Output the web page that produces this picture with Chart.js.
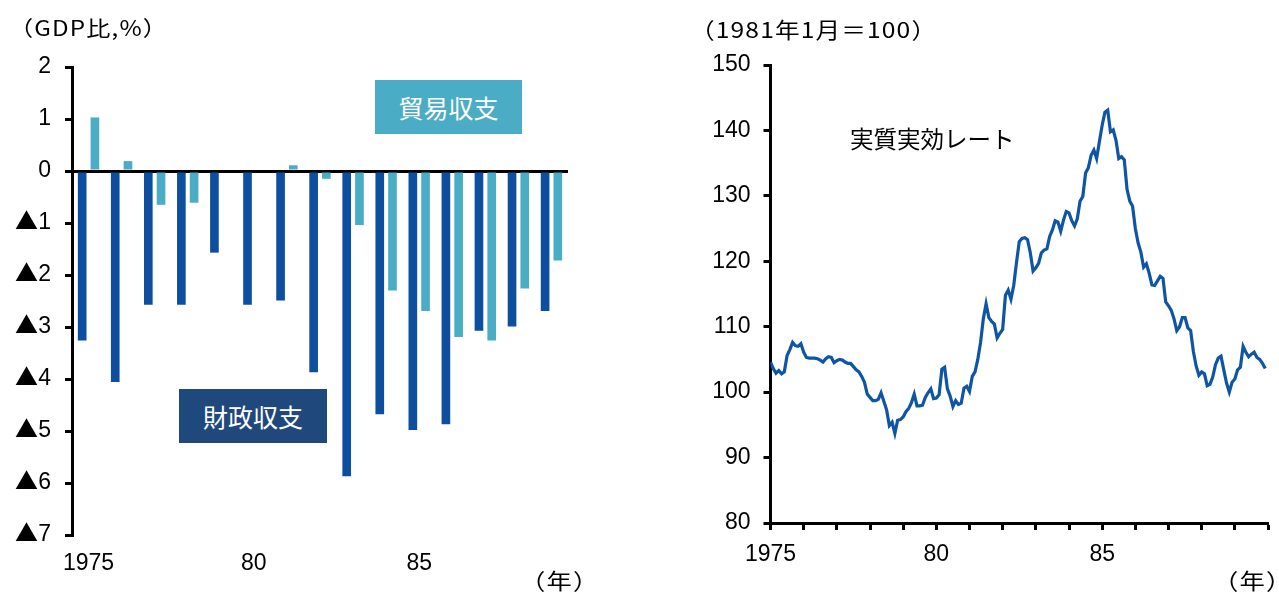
<!DOCTYPE html>
<html><head><meta charset="utf-8">
<script src="https://cdn.jsdelivr.net/npm/chart.js@4.4.0/dist/chart.umd.min.js"></script>
<style>
@font-face{font-family:"TriSym";src:local("Noto Sans CJK JP"),local("Noto Sans CJK JP Regular"),local("NotoSansCJKjp-Regular");unicode-range:U+25B2;}
html,body{margin:0;padding:0;background:#fff;}
body{width:1279px;height:592px;position:relative;overflow:hidden;font-family:"Liberation Sans","Noto Sans CJK JP",sans-serif;color:#000;}
canvas{position:absolute;top:0;}
.t{position:absolute;white-space:nowrap;line-height:1;}
.j{font-family:"Noto Sans CJK JP",sans-serif;}
.w{transform-origin:0 50%;}
.box{position:absolute;color:#fff;display:flex;align-items:center;justify-content:center;font-family:"Noto Sans CJK JP",sans-serif;font-size:25px;}
</style></head>
<body>
<canvas id="left" width="640" height="592" style="left:0"></canvas>
<canvas id="right" width="639" height="592" style="left:640px"></canvas>
<div class="t j w" style="left:9px;top:17px;font-size:21px;letter-spacing:1px;transform:scaleX(1.15);">（GDP比,%）</div>
<div class="t j w" style="left:690px;top:17px;font-size:22px;letter-spacing:1px;transform:scaleX(1.12);">（1981年1月＝100）</div>
<div class="t j w" style="left:520px;top:568px;font-size:22px;letter-spacing:1px;transform:scaleX(1.15);">（年）</div>
<div class="t j w" style="left:1213px;top:568px;font-size:22px;letter-spacing:1px;transform:scaleX(1.15);">（年）</div>
<div class="t j" style="left:850px;top:127px;font-size:23.5px;">実質実効レート</div>
<div class="box" style="left:375px;top:80px;width:147px;height:54px;background:#4BACC6;">貿易収支</div>
<div class="box" style="left:179px;top:389px;width:148px;height:54px;background:#1F497D;">財政収支</div>
<script>
// ---- Left chart data ----
const years = ['1975','1976','1977','1978','1979','1980','1981','1982','1983','1984','1985','1986','1987','1988','1989'];
const fiscalBalance = [-3.26,-4.06,-2.57,-2.57,-1.57,-2.57,-2.49,-3.87,-5.87,-4.68,-4.98,-4.87,-3.07,-2.99,-2.69];
const tradeBalance = [1.03,0.19,-0.65,-0.61,null,null,0.11,-0.15,-1.04,-2.30,-2.69,-3.19,-3.26,-2.26,-1.72];
const leftXTickLabels = ['1975','','','','','80','','','','','85','','','',''];
const leftYTickValues = [-7,-6,-5,-4,-3,-2,-1,0,1,2];
const leftYTickLabels = ['▲7','▲6','▲5','▲4','▲3','▲2','▲1','0','1','2'];

// ---- Right chart data (monthly, Jan 1975 - Dec 1989) ----
const reerStartYear = 1975;
const reer1975 = [104.6,103.6,102.9,103.3,102.8,103.1,105.6,106.5,107.6,107.1,107.0,107.4];
const reer1976 = [106.1,105.3,105.2,105.2,105.2,105.1,104.9,104.6,105.1,105.4,105.3,104.5];
const reer1977 = [104.8,105.0,104.9,104.6,104.4,104.4,103.9,103.4,103.1,102.4,101.5,99.7];
const reer1978 = [99.2,98.7,98.7,98.9,99.9,98.6,97.3,94.9,95.4,93.7,95.7,95.8];
const reer1979 = [96.2,97.0,97.5,98.4,99.7,97.9,97.9,98.0,99.2,99.9,100.5,99.0];
const reer1980 = [99.1,99.6,103.5,103.8,100.5,99.4,97.8,98.7,98.1,98.3,100.6,100.9];
const reer1981 = [100.1,102.4,103.1,105.0,107.6,111.2,113.5,111.4,110.8,110.4,108.3,109.0];
const reer1982 = [109.6,114.8,115.6,114.2,116.3,119.8,123.0,123.5,123.6,123.3,121.3,118.5];
const reer1983 = [119.0,119.7,121.3,121.7,121.9,123.8,124.8,126.2,126.0,124.6,126.3,127.6];
const reer1984 = [127.4,126.2,125.4,126.5,129.2,129.9,133.5,134.3,136.2,137.0,135.7,138.3];
const reer1985 = [140.8,142.8,143.1,139.8,140.1,138.5,135.7,136.0,135.5,131.0,129.2,128.4];
const reer1986 = [125.0,122.8,121.4,119.1,119.6,118.2,116.4,116.3,117.0,117.7,117.4,113.8];
const reer1987 = [113.2,112.5,111.2,109.4,110.0,111.4,111.4,109.8,109.4,106.2,104.0,102.6];
const reer1988 = [103.1,102.8,101.0,101.2,102.3,104.2,105.2,105.5,103.4,101.4,100.0,101.5];
const reer1989 = [102.0,103.4,103.8,107.0,106.1,105.4,105.8,106.1,105.3,105.0,104.4,103.6];
const reer = [].concat(reer1975,reer1976,reer1977,reer1978,reer1979,reer1980,reer1981,reer1982,reer1983,reer1984,reer1985,reer1986,reer1987,reer1988,reer1989);
const rightXTickLabels = ['1975','','','','','80','','','','','85','','','','',''];

const FONT = {family:'TriSym, "Liberation Sans", Arial, sans-serif', size:23};
Chart.defaults.color = '#000';

function draw(){
new Chart(document.getElementById('left'), {
  type:'bar',
  data:{labels:years, datasets:[
    {label:'財政収支', data:fiscalBalance, backgroundColor:'#0D4F9E', categoryPercentage:0.77, barPercentage:0.68},
    {label:'貿易収支', data:tradeBalance, backgroundColor:'#4BACC6', categoryPercentage:0.77, barPercentage:0.68}
  ]},
  options:{
    responsive:false, animation:false,
    layout:{padding:{top:67,right:72,bottom:0,left:0}},
    plugins:{legend:{display:false}, tooltip:{enabled:false}},
    scales:{
      x:{
        grid:{display:false, drawTicks:false}, border:{display:false},
        ticks:{autoSkip:false, maxRotation:0, padding:15, font:FONT, color:'#000',
          callback:(v,i)=>leftXTickLabels[i]},
        afterFit:(s)=>{s.height=57;}
      },
      y:{
        min:-7, max:2, z:1,
        border:{display:true, color:'#000', width:3},
        grid:{color:(c)=>c.tick && c.tick.value===0?'#000':'rgba(0,0,0,0)', lineWidth:3,
          drawTicks:true, tickLength:7, tickColor:'#000', tickWidth:3},
        ticks:{stepSize:1, padding:14, font:FONT, color:'#000',
          callback:(v)=>{const k=leftYTickValues.indexOf(v); return k>=0?leftYTickLabels[k]:'';}},
        afterFit:(s)=>{s.width=72;}
      }
    }
  }
});

new Chart(document.getElementById('right'), {
  type:'line',
  data:{datasets:[{label:'実質実効レート',
    data:reer.map((v,i)=>({x:reerStartYear+i/12, y:v})),
    borderColor:'#0E55A5', borderWidth:3.2, pointRadius:0, tension:0, fill:false}]},
  options:{
    responsive:false, animation:false,
    layout:{padding:{top:65,right:11,bottom:0,left:0}},
    plugins:{legend:{display:false}, tooltip:{enabled:false}},
    scales:{
      x:{
        type:'linear', min:1975, max:1990,
        border:{display:true, color:'#000', width:3},
        grid:{drawOnChartArea:false, drawTicks:true, tickLength:7, tickColor:'#000', tickWidth:3},
        ticks:{stepSize:1, autoSkip:false, maxRotation:0, padding:11, font:FONT, color:'#000',
          callback:(v)=>{const k=Math.round(v-1975); return rightXTickLabels[k]!==undefined?rightXTickLabels[k]:'';}},
        afterFit:(s)=>{s.height=69;}
      },
      y:{
        min:80, max:150,
        border:{display:true, color:'#000', width:3},
        grid:{drawOnChartArea:false, drawTicks:true, tickLength:7, tickColor:'#000', tickWidth:3},
        ticks:{stepSize:10, padding:13, font:FONT, color:'#000'},
        afterFit:(s)=>{s.width=130.5;}
      }
    }
  }
});
}
let drawn=false;
function go(){ if(!drawn){drawn=true; draw();} }
if (document.fonts && document.fonts.load) {
  document.fonts.load('23px TriSym','▲').then(go, go);
  setTimeout(go, 1500);
} else { go(); }
</script>
</body></html>
